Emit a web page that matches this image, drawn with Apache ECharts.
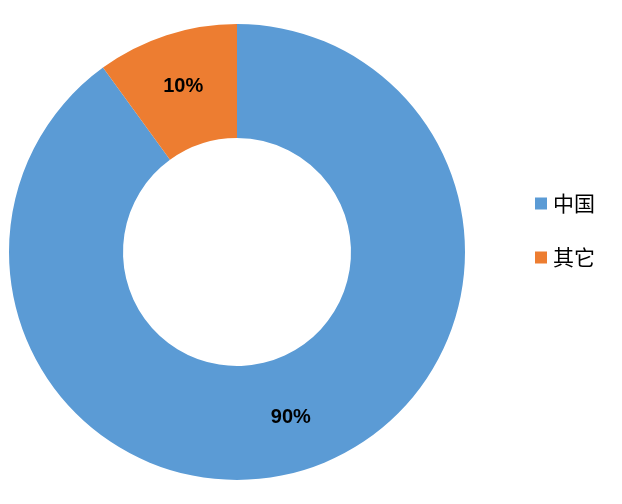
<!DOCTYPE html>
<html><head><meta charset="utf-8">
<script src="https://cdn.jsdelivr.net/npm/echarts@6/dist/echarts.min.js"></script>
<style>html,body{margin:0;padding:0;background:#fff}#c{width:622px;height:504px}</style>
</head><body><div id="c"></div>
<script>
var categories = ['中国', '其它'];
var values = [90, 10];
var colors = ['#5B9BD5', '#ED7D31'];

var chart = echarts.init(document.getElementById('c'));
chart.setOption({
  animation: false,
  color: colors,
  legend: {
    orient: 'vertical',
    left: 535,
    top: 193,
    padding: 0,
    itemWidth: 12,
    itemHeight: 12,
    itemGap: 33,
    icon: 'rect',
    data: categories,
    textStyle: { fontFamily: 'Noto Sans CJK SC', fontSize: 21, color: '#000', padding: [0, 0, 0, 1] }
  },
  series: [{
    type: 'pie',
    center: [237, 252],
    radius: [114, 228],
    startAngle: 90,
    clockwise: true,
    emphasis: { disabled: true },
    label: {
      position: 'inside',
      formatter: function (p) { return p.value + '%'; },
      color: '#000',
      fontFamily: 'Liberation Sans, Arial',
      fontWeight: 'bold',
      fontSize: 20
    },
    labelLine: { show: false },
    data: categories.map(function (c, i) { return { name: c, value: values[i] }; })
  }]
});
</script></body></html>
